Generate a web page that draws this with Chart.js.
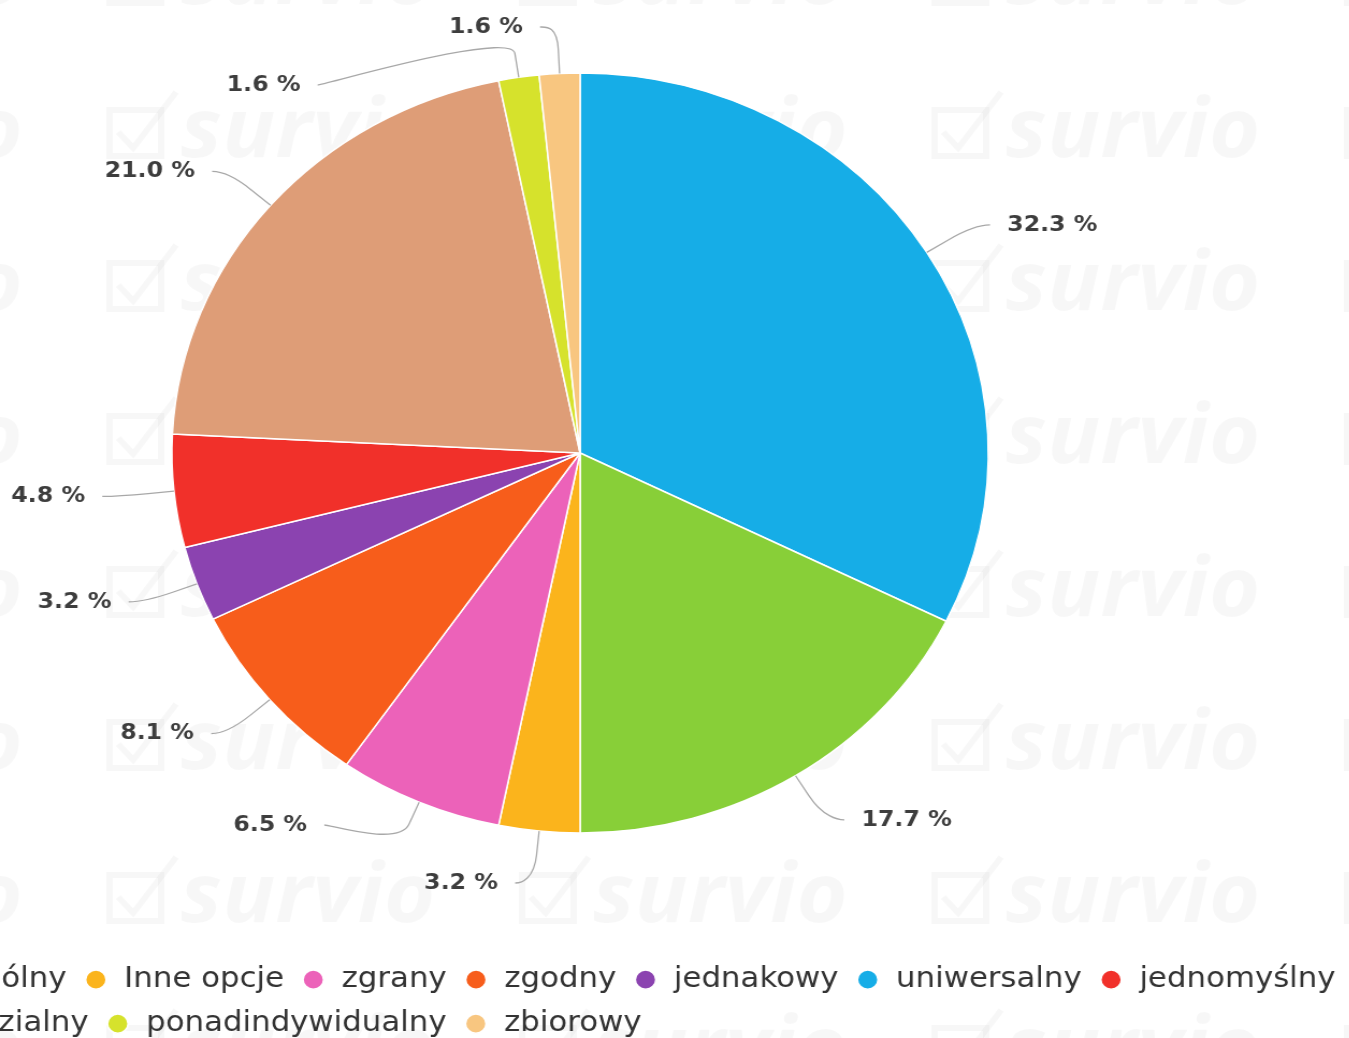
<!DOCTYPE html>
<html>
<head>
<meta charset="utf-8">
<script src="https://cdn.jsdelivr.net/npm/chart.js@4.4.1/dist/chart.umd.min.js"></script>
<style>
  html, body { margin: 0; padding: 0; background: #fff; overflow: hidden; }
  #wrap { position: relative; width: 1349px; height: 1038px; overflow: hidden; }
  #myChart { position: absolute; left: 0; top: 0; }
</style>
</head>
<body>
<div id="wrap">
  <!-- drawn 1320 wide, shown a bit wider like the stretched screenshot -->
  <canvas id="myChart" width="1320" height="1048" style="width:1418px;height:1048px"></canvas>
</div>
<script>
// slices, clockwise from the top
var categories = ['uniwersalny', 'wspólny', 'Inne opcje', 'zgrany', 'zgodny', 'jednakowy', 'jednomyślny', 'podzialny', 'ponadindywidualny', 'zbiorowy'];
var percents = [32.3, 17.7, 3.2, 6.5, 8.1, 3.2, 4.8, 21.0, 1.6, 1.6];
var colors = ['#16ade7', '#88cf38', '#fbb41c', '#ec62b9', '#f75d1b', '#8b43b0', '#f1302a', '#de9d77', '#d6e22c', '#f8c680'];
// order the legend lists them in
var legendOrder = ['wspólny', 'Inne opcje', 'zgrany', 'zgodny', 'jednakowy', 'uniwersalny', 'jednomyślny', 'podzialny', 'ponadindywidualny', 'zbiorowy'];

// faint "survio" tiles behind the pie
var watermark = {
  id: 'watermark',
  beforeDraw: function(chart) {
    var ctx = chart.ctx;
    ctx.save();
    ctx.fillStyle = 'rgba(0,0,0,0.032)';
    ctx.strokeStyle = 'rgba(0,0,0,0.032)';
    ctx.lineWidth = 6;
    ctx.font = 'italic bold 82px "Open Sans"';
    ctx.textBaseline = 'middle';
    for (var row = -1; row < 8; row++) {
      for (var col = -1; col < 4; col++) {
        var x = 102 + col * 384, y = 132 + row * 153;
        ctx.strokeRect(x, y - 22, 48, 46);
        ctx.beginPath();
        ctx.moveTo(x + 8, y);
        ctx.lineTo(x + 22, y + 16);
        ctx.lineTo(x + 62, y - 40);
        ctx.stroke();
        ctx.fillText('survio', x + 66, y + 2);
      }
    }
    ctx.restore();
  }
};

// outside labels with soft connectors, pushed apart per side
var pieLabels = {
  id: 'pieLabels',
  afterDatasetsDraw: function(chart) {
    var ctx = chart.ctx;
    var arcs = chart.getDatasetMeta(0).data;
    var left = [], right = [];
    arcs.forEach(function(arc, i) {
      var mid = (arc.startAngle + arc.endAngle) / 2;
      var it = {i: i, mid: mid, cx: arc.x, cy: arc.y, r: arc.outerRadius};
      it.y0 = it.y = arc.y + (arc.outerRadius + 52) * Math.sin(mid);
      (Math.cos(mid) >= 0 ? right : left).push(it);
    });
    var gap = 58;
    [left, right].forEach(function(list, side) {
      if (!list.length) return;
      var cy = list[0].cy, r = list[0].r;
      var top = cy - r - 46, bottom = cy + r + 50;
      list.sort(function(a, b) { return a.y - b.y; });
      var prev = top - gap;
      list.forEach(function(it) { it.y = Math.max(it.y, prev + gap); prev = it.y; });
      var next = bottom + gap;
      for (var k = list.length - 1; k >= 0; k--) {
        list[k].y = Math.min(list[k].y, next - gap);
        next = list[k].y;
      }
      var sign = side === 0 ? -1 : 1;
      list.forEach(function(it) {
        var rx = it.r + 83, ry = it.r + 65;
        var c = Math.cos(it.mid), s = Math.sin(it.mid);
        var dy = (it.y - it.cy) / ry;
        var dx = rx * Math.sqrt(Math.max(0, 1 - dy * dy));
        // labels that barely moved stay close to their slice
        if (Math.abs(it.y - it.y0) < 20) dx = Math.min(dx, rx * Math.abs(c) + 30);
        var tx = it.cx + sign * dx;
        var ex = it.cx + it.r * c, ey = it.cy + it.r * s;
        var bx = it.cx + (it.r + 24) * c, by = it.cy + (it.r + 24) * s;
        var sx = tx - sign * 16;
        ctx.save();
        ctx.strokeStyle = '#a8a8a8';
        ctx.lineWidth = 1.3;
        ctx.beginPath();
        ctx.moveTo(sx, it.y);
        ctx.bezierCurveTo(sx - sign * 6, it.y, 2 * bx - ex, 2 * by - ey, bx, by);
        ctx.lineTo(ex, ey);
        ctx.stroke();
        ctx.fillStyle = '#3d3d3d';
        ctx.font = 'bold 22px "DejaVu Sans"';
        ctx.textBaseline = 'middle';
        ctx.textAlign = sign < 0 ? 'right' : 'left';
        ctx.fillText(percents[it.i].toFixed(1) + ' %', tx, it.y);
        ctx.restore();
      });
    });
  }
};

var myChart = document.getElementById('myChart').getContext('2d');
var pieChart = new Chart(myChart, {
  type: 'pie',
  data: {
    labels: categories,
    datasets: [{
      data: percents,
      backgroundColor: colors,
      borderColor: '#ffffff',
      borderWidth: 1.5,
      radius: 380
    }]
  },
  options: {
    responsive: false,
    animation: false,
    layout: { padding: { left: -109, top: 0, right: 0, bottom: 0 } },
    plugins: {
      tooltip: { enabled: false },
      // empty boxes: one on the right and one above the legend, they only move the pie
      title: { display: true, text: '', position: 'right', padding: { top: 225.6, bottom: 0 } },
      subtitle: { display: true, text: '', position: 'bottom', weight: 500, padding: { top: 29.6, bottom: 0 } },
      legend: {
        position: 'bottom',
        align: 'start',
        labels: {
          font: { family: 'DejaVu Sans', size: 28.7 },
          color: '#333333',
          usePointStyle: true,
          pointStyle: 'circle',
          boxWidth: 24,
          boxHeight: 13.5,
          padding: 15.3,
          sort: function(a, b) { return legendOrder.indexOf(a.text) - legendOrder.indexOf(b.text); }
        }
      }
    }
  },
  plugins: [watermark, pieLabels]
});
</script>
</body>
</html>
